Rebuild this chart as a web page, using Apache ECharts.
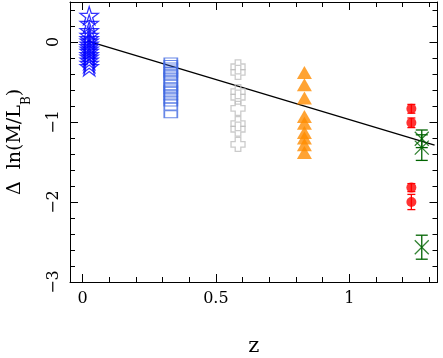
<!DOCTYPE html>
<html><head><meta charset="utf-8">
<script src="https://cdn.jsdelivr.net/npm/echarts@6/dist/echarts.min.js"></script>
<style>html,body{margin:0;padding:0;background:#fff}#c{width:443px;height:358px}</style>
</head><body><div id="c"></div>
<script>
// ---- data ----
const starZ = 0.025;
const starY = [0.33, 0.23, 0.14, 0.08, 0.04, 0.01, -0.03, -0.06, -0.09, -0.12, -0.16, -0.19, -0.23, -0.27, -0.31];
const squareZ = 0.331;
const squareY = [-0.244, -0.275, -0.306, -0.356, -0.381, -0.406, -0.431, -0.469, -0.519, -0.556, -0.581, -0.606, -0.644, -0.681, -0.719, -0.756, -0.806, -0.904];
const crossZ = 0.583;
const crossY = [-0.31, -0.38, -0.62, -0.69, -0.83, -1.02, -1.09, -1.28];
const triZ = 0.832;
const triY = [-0.38, -0.535, -0.70, -0.93, -1.015, -1.13, -1.20, -1.285, -1.38];
const redZ = [1.233, 1.233, 1.233, 1.233];
const redY = [-0.835, -1.01, -1.82, -2.00];
const redErr = [0.055, 0.06, 0.05, 0.095];
const greenZ = [1.272, 1.272, 1.272];
const greenY = [-1.21, -1.32, -2.565];
const greenErr = [0.11, 0.16, 0.15];
const fitZ = [0.02, 1.32];
const fitY = [0.01, -1.29];
const xTickLabels = [0, 0.5, 1];
const xMinorTicks = [0.1, 0.2, 0.3, 0.4, 0.6, 0.7, 0.8, 0.9, 1.1, 1.2, 1.3];
const yTickLabels = [-3, -2, -1, 0];
const yMinorTicks = [-2.8, -2.6, -2.4, -2.2, -1.8, -1.6, -1.4, -1.2, -0.8, -0.6, -0.4, -0.2, 0.2, 0.4];

// ---- chart ----
const X_MIN = -0.047, X_MAX = 1.331, Y_MIN = -3, Y_MAX = 0.5;
const gridRect = {left: 70, top: 2, width: 367.5, height: 280, containLabel: false, outerBoundsMode: 'none'};
const FONT = 'DejaVu Serif';
const fmt = v => v < 0 ? '\u2212' + Math.abs(v) : String(v);

function xAx(gridIndex, position, ticks, len, labels, line) {
  return {
    type: 'value', gridIndex, position, min: X_MIN, max: X_MAX,
    axisLine: {show: line, onZero: false, lineStyle: {color: '#000', width: 1}},
    axisTick: {show: true, inside: true, length: len, customValues: ticks, lineStyle: {color: '#000', width: 1}},
    axisLabel: labels ? {show: true, customValues: ticks, formatter: fmt, color: '#000', fontFamily: FONT, fontSize: 16, margin: 9} : {show: false},
    splitLine: {show: false}
  };
}
function yAx(gridIndex, position, ticks, len, labels, line) {
  return {
    type: 'value', gridIndex, position, min: Y_MIN, max: Y_MAX,
    axisLine: {show: line, onZero: false, lineStyle: {color: '#000', width: 1}},
    axisTick: {show: true, inside: true, length: len, customValues: ticks, lineStyle: {color: '#000', width: 1}},
    axisLabel: labels ? {show: true, customValues: ticks, formatter: fmt, rotate: 90, color: '#000', fontFamily: FONT, fontSize: 16, margin: 8} : {show: false},
    splitLine: {show: false}
  };
}

const xAxes = [
  xAx(0, 'bottom', xTickLabels, 8, true, true),
  xAx(0, 'top', xTickLabels, 8, false, true),
  xAx(1, 'bottom', xMinorTicks, 5, false, false),
  xAx(1, 'top', xMinorTicks, 5, false, false)
];
xAxes[0].name = 'z';
xAxes[0].nameLocation = 'middle';
xAxes[0].nameGap = 54;
xAxes[0].nameTextStyle = {fontFamily: FONT, fontSize: 21, color: '#000'};

const yAxes = [
  yAx(0, 'left', yTickLabels, 8, true, true),
  yAx(0, 'right', yTickLabels, 8, false, true),
  yAx(1, 'left', yMinorTicks, 5, false, false),
  yAx(1, 'right', yMinorTicks, 5, false, false)
];
yAxes[0].name = '{a|\u0394  ln(M/L}{s|B}{a|)}';
yAxes[0].nameLocation = 'middle';
yAxes[0].nameRotate = 90;
yAxes[0].nameGap = 43;
yAxes[0].nameTextStyle = {
  color: '#000',
  rich: {
    a: {fontFamily: FONT, fontSize: 19, color: '#000', lineHeight: 24},
    s: {fontFamily: FONT, fontSize: 12, color: '#000', lineHeight: 24, verticalAlign: 'bottom', padding: [0, 0, -6, 0]}
  }
};

const STAR = 'path://M50,0 L61.8,36.2 L100,36.2 L69.1,58.6 L80.9,95.1 L50,72.4 L19.1,95.1 L30.9,58.6 L0,36.2 L38.2,36.2 Z';
const PLUS = 'path://M3,0 L7,0 L7,3 L10,3 L10,7 L7,7 L7,10 L3,10 L3,7 L0,7 L0,3 L3,3 Z';
const XMARK = 'path://M0,0 L10,10 M10,0 L0,10';

function errSeries(zs, ys, es, color, capW, name) {
  return {
    type: 'custom', name, xAxisIndex: 0, yAxisIndex: 0, z: 3,
    data: zs.map((z, i) => [z, ys[i], es[i]]),
    renderItem: (params, api) => {
      const x = api.value(0), y = api.value(1), e = api.value(2);
      const p0 = api.coord([x, y + e]), p1 = api.coord([x, y - e]);
      const st = {stroke: color, lineWidth: 1.3};
      return {type: 'group', children: [
        {type: 'line', shape: {x1: p0[0], y1: p0[1], x2: p1[0], y2: p1[1]}, style: st},
        {type: 'line', shape: {x1: p0[0] - capW / 2, y1: p0[1], x2: p0[0] + capW / 2, y2: p0[1]}, style: st},
        {type: 'line', shape: {x1: p1[0] - capW / 2, y1: p1[1], x2: p1[0] + capW / 2, y2: p1[1]}, style: st}
      ]};
    }
  };
}

const option = {
  animation: false,
  backgroundColor: '#fff',
  grid: [Object.assign({}, gridRect), Object.assign({}, gridRect)],
  xAxis: xAxes,
  yAxis: yAxes,
  series: [
    {type: 'line', name: 'fit', xAxisIndex: 0, yAxisIndex: 0, data: fitZ.map((z, i) => [z, fitY[i]]),
     showSymbol: false, symbol: 'none', lineStyle: {color: '#000', width: 1.3}, z: 1},
    {type: 'scatter', name: 'stars', data: starY.map(y => [starZ, y]), symbol: STAR, symbolSize: 18,
     itemStyle: {color: 'rgba(0,0,0,0)', borderColor: '#0000ff', borderWidth: 1.3}, z: 2},
    {type: 'scatter', name: 'squares', data: squareY.map(y => [squareZ, y]), symbol: 'rect', symbolSize: [13, 7],
     itemStyle: {color: 'rgba(0,0,0,0)', borderColor: '#4169e1', borderWidth: 1.3}, z: 2},
    {type: 'scatter', name: 'crosses', data: crossY.map(y => [crossZ, y]), symbol: PLUS, symbolSize: 14,
     itemStyle: {color: 'rgba(0,0,0,0)', borderColor: '#bebebe', borderWidth: 1.3}, z: 2},
    {type: 'scatter', name: 'triangles', data: triY.map(y => [triZ, y]), symbol: 'triangle', symbolSize: [15, 13],
     itemStyle: {color: '#ff8c00'}, z: 2},
    errSeries(redZ, redY, redErr, '#ff0000', 8, 'redErr'),
    {type: 'scatter', name: 'red', data: redY.map((y, i) => [redZ[i], y]), symbol: 'circle', symbolSize: 10,
     itemStyle: {color: '#ff0000'}, z: 4},
    errSeries(greenZ, greenY, greenErr, '#006400', 12, 'greenErr'),
    {type: 'scatter', name: 'green', data: greenY.map((y, i) => [greenZ[i], y]), symbol: XMARK, symbolSize: 14,
     itemStyle: {color: 'rgba(0,0,0,0)', borderColor: '#006400', borderWidth: 1.3}, z: 4}
  ]
};
const chart = echarts.init(document.getElementById('c'), null, {renderer: 'canvas'});
chart.setOption(option);
</script>
</body></html>
